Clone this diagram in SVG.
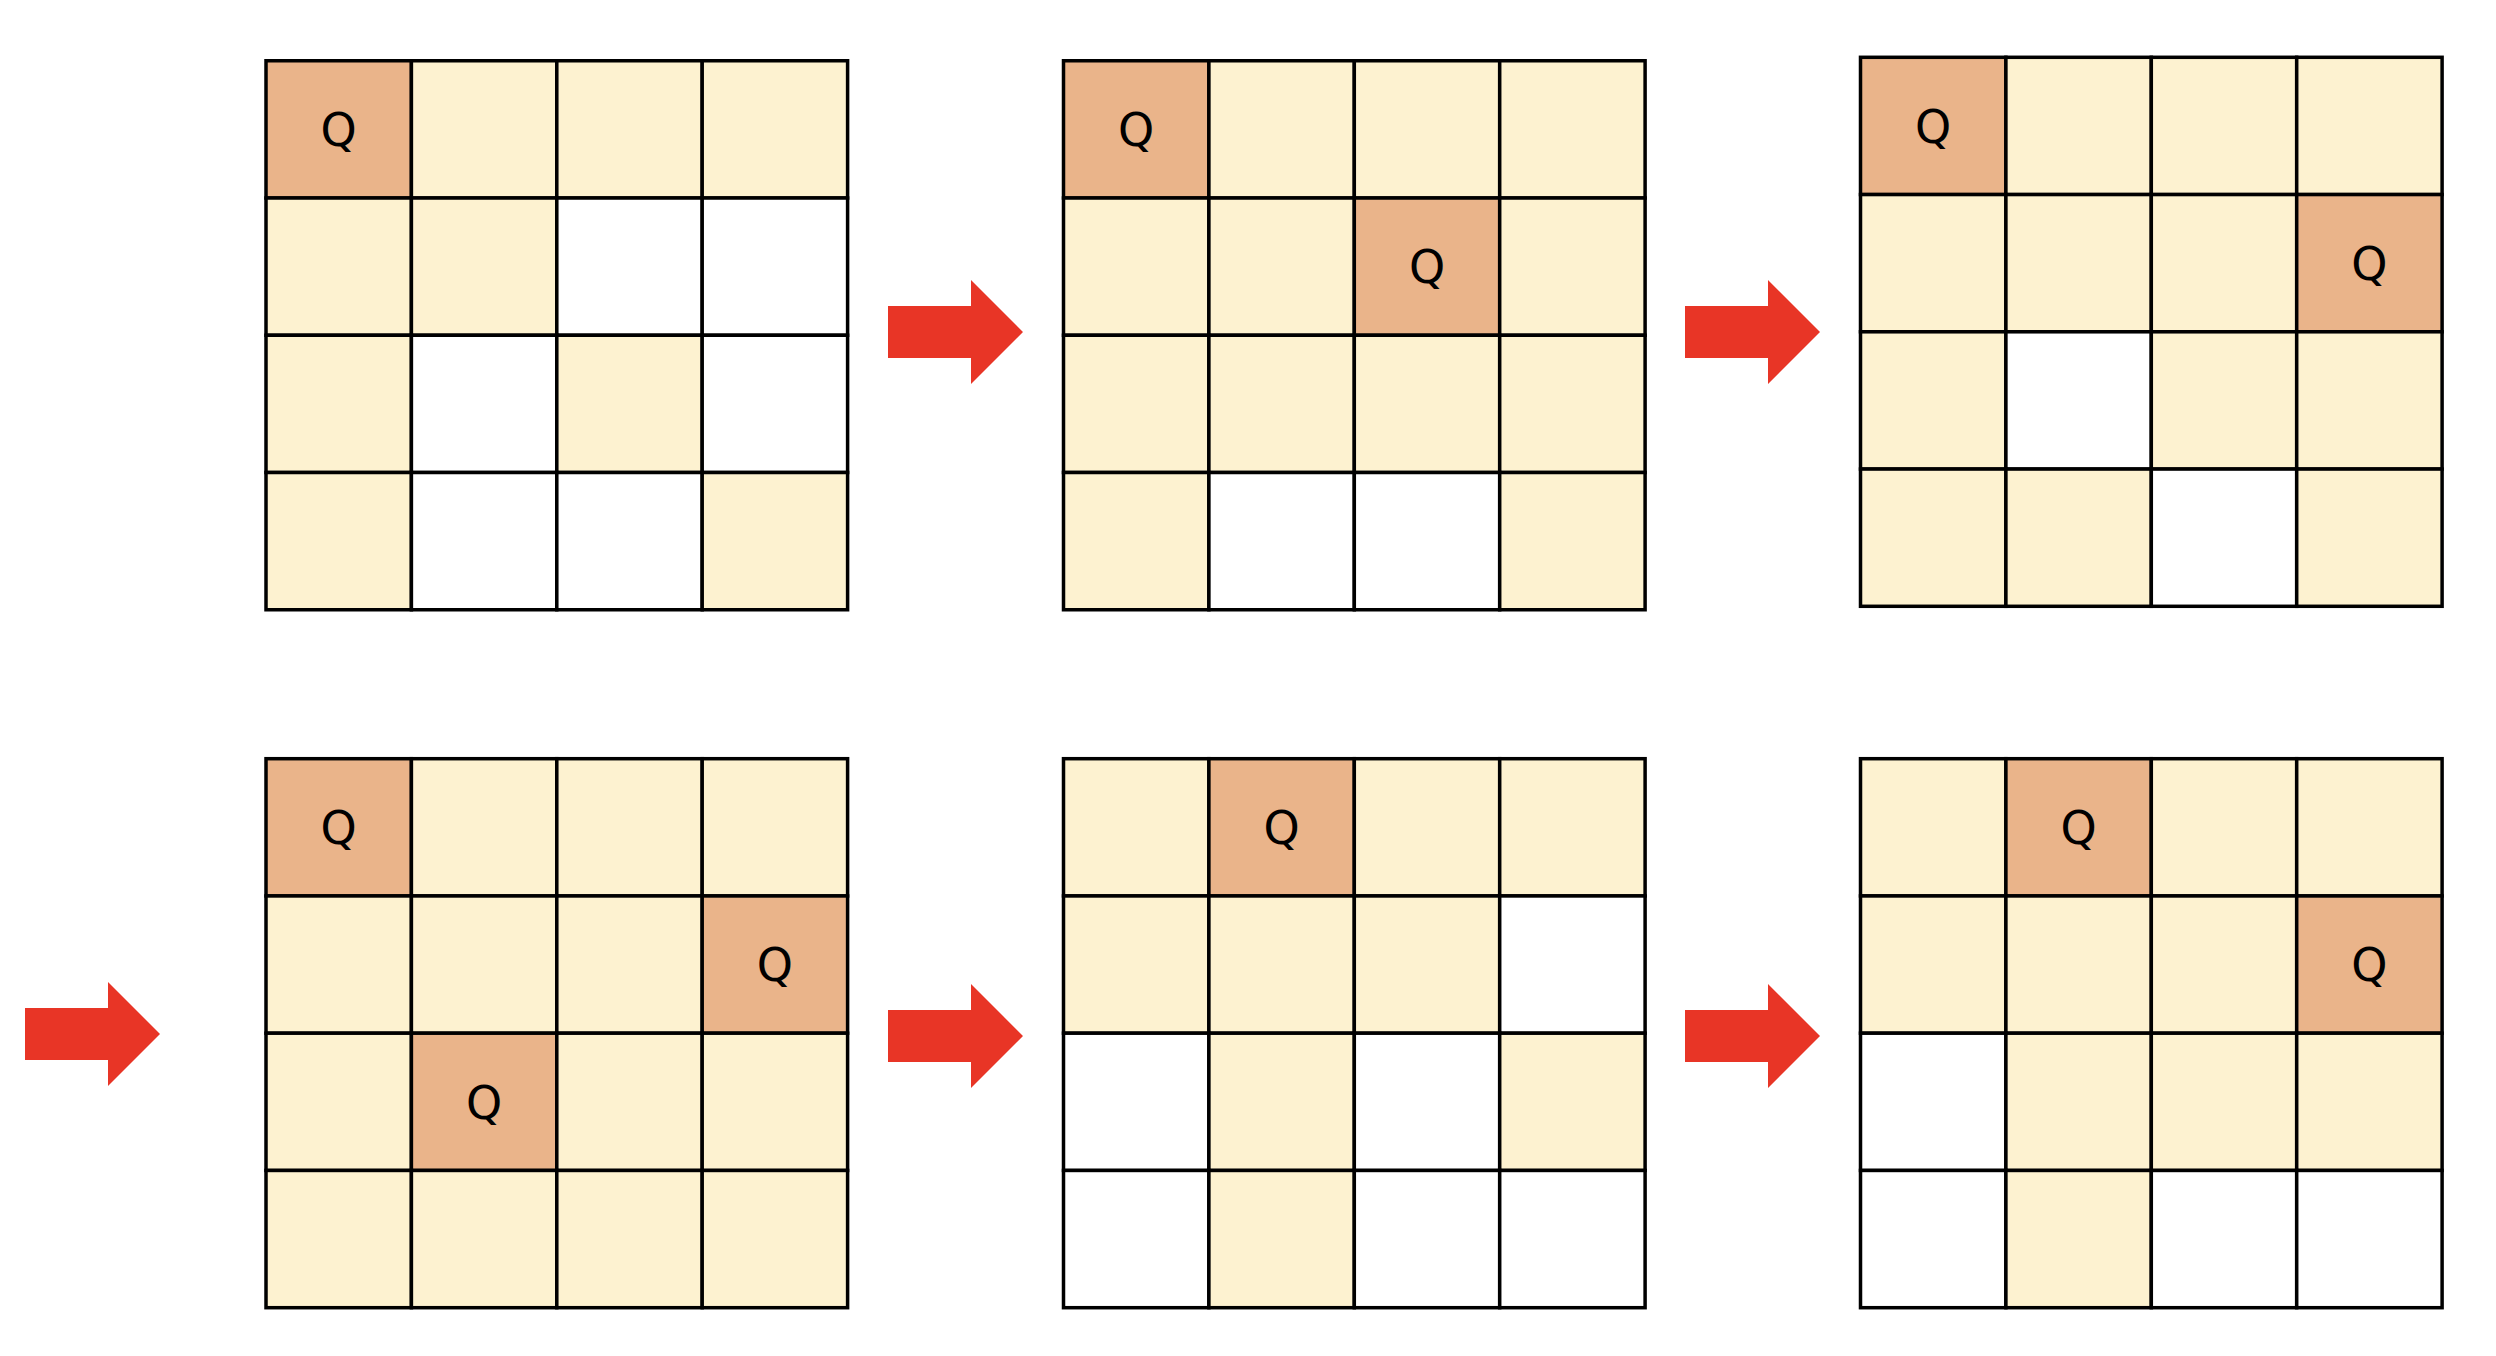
<svg xmlns="http://www.w3.org/2000/svg" width="2496" height="1356" viewBox="0 0 2496 1356">
<style>
.L{fill:#fdf2d0;stroke:#000;stroke-width:3.5}
.W{fill:#ffffff;stroke:#000;stroke-width:3.5}
.Q{fill:#eab48a;stroke:#000;stroke-width:3.5}
.t{font-family:'DejaVu Sans',Verdana,sans-serif;font-size:46px;fill:#000;text-anchor:middle}
.arrow{fill:#e83526}
</style>
<defs>
<path id="arr" d="M0,-26 H83 V-52 L135,0 L83,52 V26 H0 Z"/>
</defs>
<rect width="2496" height="1356" fill="#ffffff"/>

<g id="board1" transform="translate(266,60.75)" font-family="DejaVu Sans, sans-serif">
<rect class="Q" x="0" y="0" width="145.4" height="137.25"/><rect class="L" x="145.4" y="0" width="145.4" height="137.25"/><rect class="L" x="290.8" y="0" width="145.4" height="137.25"/><rect class="L" x="436.2" y="0" width="145.4" height="137.25"/>
<rect class="L" x="0" y="137.25" width="145.4" height="137.25"/><rect class="L" x="145.4" y="137.25" width="145.4" height="137.25"/><rect class="W" x="290.8" y="137.25" width="145.4" height="137.25"/><rect class="W" x="436.2" y="137.25" width="145.4" height="137.25"/>
<rect class="L" x="0" y="274.5" width="145.4" height="137.25"/><rect class="W" x="145.4" y="274.5" width="145.4" height="137.25"/><rect class="L" x="290.8" y="274.5" width="145.4" height="137.25"/><rect class="W" x="436.2" y="274.5" width="145.4" height="137.25"/>
<rect class="L" x="0" y="411.75" width="145.4" height="137.25"/><rect class="W" x="145.4" y="411.75" width="145.4" height="137.25"/><rect class="W" x="290.8" y="411.75" width="145.4" height="137.25"/><rect class="L" x="436.2" y="411.75" width="145.4" height="137.25"/>
<text class="t" x="72.7" y="85.4">Q</text>
</g>

<g id="board2" transform="translate(1063.5,60.75)" font-family="DejaVu Sans, sans-serif">
<rect class="Q" x="0" y="0" width="145.4" height="137.25"/><rect class="L" x="145.4" y="0" width="145.4" height="137.25"/><rect class="L" x="290.8" y="0" width="145.4" height="137.25"/><rect class="L" x="436.2" y="0" width="145.4" height="137.25"/>
<rect class="L" x="0" y="137.25" width="145.4" height="137.25"/><rect class="L" x="145.4" y="137.25" width="145.4" height="137.25"/><rect class="Q" x="290.8" y="137.25" width="145.4" height="137.25"/><rect class="L" x="436.2" y="137.25" width="145.4" height="137.25"/>
<rect class="L" x="0" y="274.5" width="145.4" height="137.25"/><rect class="L" x="145.4" y="274.5" width="145.4" height="137.25"/><rect class="L" x="290.8" y="274.5" width="145.4" height="137.25"/><rect class="L" x="436.2" y="274.5" width="145.4" height="137.25"/>
<rect class="L" x="0" y="411.75" width="145.4" height="137.25"/><rect class="W" x="145.4" y="411.75" width="145.4" height="137.25"/><rect class="W" x="290.8" y="411.75" width="145.4" height="137.25"/><rect class="L" x="436.2" y="411.75" width="145.4" height="137.25"/>
<text class="t" x="72.7" y="85.4">Q</text>
<text class="t" x="363.5" y="222.65">Q</text>
</g>

<g id="board3" transform="translate(1860.5,57.3)" font-family="DejaVu Sans, sans-serif">
<rect class="Q" x="0" y="0" width="145.4" height="137.25"/><rect class="L" x="145.4" y="0" width="145.4" height="137.25"/><rect class="L" x="290.8" y="0" width="145.4" height="137.25"/><rect class="L" x="436.2" y="0" width="145.4" height="137.25"/>
<rect class="L" x="0" y="137.25" width="145.4" height="137.25"/><rect class="L" x="145.4" y="137.25" width="145.4" height="137.25"/><rect class="L" x="290.8" y="137.25" width="145.4" height="137.25"/><rect class="Q" x="436.2" y="137.25" width="145.4" height="137.25"/>
<rect class="L" x="0" y="274.5" width="145.4" height="137.25"/><rect class="W" x="145.4" y="274.5" width="145.4" height="137.25"/><rect class="L" x="290.8" y="274.5" width="145.4" height="137.25"/><rect class="L" x="436.2" y="274.5" width="145.4" height="137.25"/>
<rect class="L" x="0" y="411.75" width="145.4" height="137.25"/><rect class="L" x="145.4" y="411.75" width="145.4" height="137.25"/><rect class="W" x="290.8" y="411.75" width="145.4" height="137.25"/><rect class="L" x="436.2" y="411.75" width="145.4" height="137.25"/>
<text class="t" x="72.7" y="85.4">Q</text>
<text class="t" x="508.9" y="222.65">Q</text>
</g>

<g id="board4" transform="translate(266,758.7)" font-family="DejaVu Sans, sans-serif">
<rect class="Q" x="0" y="0" width="145.4" height="137.25"/><rect class="L" x="145.4" y="0" width="145.4" height="137.25"/><rect class="L" x="290.8" y="0" width="145.4" height="137.25"/><rect class="L" x="436.2" y="0" width="145.4" height="137.25"/>
<rect class="L" x="0" y="137.25" width="145.4" height="137.25"/><rect class="L" x="145.4" y="137.25" width="145.4" height="137.25"/><rect class="L" x="290.8" y="137.25" width="145.4" height="137.25"/><rect class="Q" x="436.2" y="137.25" width="145.4" height="137.25"/>
<rect class="L" x="0" y="274.5" width="145.4" height="137.25"/><rect class="Q" x="145.4" y="274.5" width="145.4" height="137.25"/><rect class="L" x="290.8" y="274.5" width="145.4" height="137.25"/><rect class="L" x="436.2" y="274.5" width="145.4" height="137.25"/>
<rect class="L" x="0" y="411.75" width="145.4" height="137.25"/><rect class="L" x="145.4" y="411.75" width="145.4" height="137.25"/><rect class="L" x="290.8" y="411.75" width="145.4" height="137.25"/><rect class="L" x="436.2" y="411.75" width="145.4" height="137.25"/>
<text class="t" x="72.7" y="85.4">Q</text>
<text class="t" x="508.9" y="222.65">Q</text>
<text class="t" x="218.1" y="359.9">Q</text>
</g>

<g id="board5" transform="translate(1063.5,758.7)" font-family="DejaVu Sans, sans-serif">
<rect class="L" x="0" y="0" width="145.4" height="137.25"/><rect class="Q" x="145.4" y="0" width="145.4" height="137.25"/><rect class="L" x="290.8" y="0" width="145.4" height="137.25"/><rect class="L" x="436.2" y="0" width="145.4" height="137.25"/>
<rect class="L" x="0" y="137.25" width="145.4" height="137.25"/><rect class="L" x="145.4" y="137.25" width="145.4" height="137.25"/><rect class="L" x="290.8" y="137.25" width="145.4" height="137.25"/><rect class="W" x="436.2" y="137.25" width="145.4" height="137.25"/>
<rect class="W" x="0" y="274.5" width="145.4" height="137.25"/><rect class="L" x="145.4" y="274.5" width="145.4" height="137.25"/><rect class="W" x="290.8" y="274.5" width="145.4" height="137.25"/><rect class="L" x="436.2" y="274.5" width="145.4" height="137.25"/>
<rect class="W" x="0" y="411.75" width="145.4" height="137.25"/><rect class="L" x="145.4" y="411.75" width="145.4" height="137.25"/><rect class="W" x="290.8" y="411.75" width="145.4" height="137.25"/><rect class="W" x="436.2" y="411.75" width="145.4" height="137.25"/>
<text class="t" x="218.1" y="85.4">Q</text>
</g>

<g id="board6" transform="translate(1860.5,758.7)" font-family="DejaVu Sans, sans-serif">
<rect class="L" x="0" y="0" width="145.4" height="137.25"/><rect class="Q" x="145.4" y="0" width="145.4" height="137.25"/><rect class="L" x="290.8" y="0" width="145.4" height="137.25"/><rect class="L" x="436.2" y="0" width="145.4" height="137.25"/>
<rect class="L" x="0" y="137.25" width="145.4" height="137.25"/><rect class="L" x="145.4" y="137.25" width="145.4" height="137.25"/><rect class="L" x="290.8" y="137.25" width="145.4" height="137.25"/><rect class="Q" x="436.2" y="137.25" width="145.4" height="137.25"/>
<rect class="W" x="0" y="274.5" width="145.4" height="137.25"/><rect class="L" x="145.4" y="274.5" width="145.4" height="137.25"/><rect class="L" x="290.8" y="274.5" width="145.4" height="137.25"/><rect class="L" x="436.2" y="274.5" width="145.4" height="137.25"/>
<rect class="W" x="0" y="411.75" width="145.4" height="137.25"/><rect class="L" x="145.4" y="411.75" width="145.4" height="137.25"/><rect class="W" x="290.8" y="411.75" width="145.4" height="137.25"/><rect class="W" x="436.2" y="411.75" width="145.4" height="137.25"/>
<text class="t" x="218.1" y="85.4">Q</text>
<text class="t" x="508.9" y="222.65">Q</text>
</g>

<g id="connectors">
<use href="#arr" class="arrow" transform="translate(888,332)"/>
<use href="#arr" class="arrow" transform="translate(1685,332)"/>
<use href="#arr" class="arrow" transform="translate(25,1034)"/>
<use href="#arr" class="arrow" transform="translate(888,1036)"/>
<use href="#arr" class="arrow" transform="translate(1685,1036)"/>
</g>
</svg>
